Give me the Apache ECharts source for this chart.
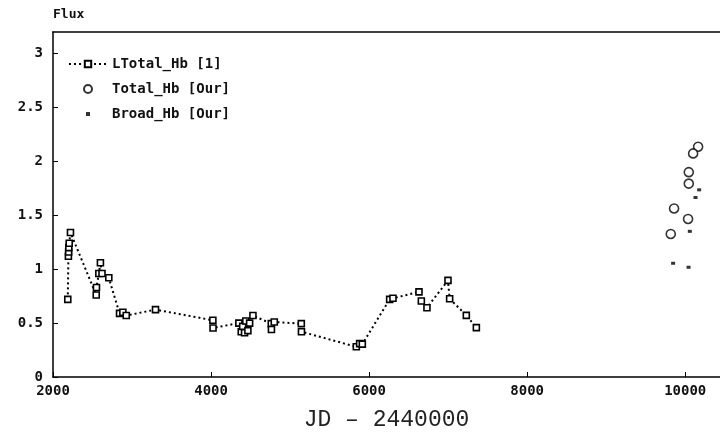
<!DOCTYPE html>
<html>
<head>
<meta charset="utf-8">
<script src="https://cdn.jsdelivr.net/npm/echarts@6/dist/echarts.min.js"></script>
<style>
  html, body { margin: 0; padding: 0; background: #fff; }
  #chart { width: 720px; height: 441px; }
</style>
</head>
<body>
<div id="chart"></div>
<script>
// LTotal_Hb [1] : [JD-2440000, flux]
const lTotalJD   = [2187, 2195, 2198, 2200, 2205, 2221, 2547, 2550, 2580, 2600, 2620, 2706, 2842, 2884, 2927, 3297, 4023, 4025, 4352, 4382, 4400, 4424, 4440, 4466, 4488, 4530, 4762, 4764, 4800, 5142, 5144, 5838, 5880, 5914, 6260, 6302, 6631, 6661, 6732, 6998, 7019, 7230, 7357];
const lTotalFlux = [0.72, 1.12, 1.16, 1.20, 1.24, 1.34, 0.76, 0.83, 0.96, 1.06, 0.96, 0.92, 0.59, 0.60, 0.57, 0.625, 0.526, 0.455, 0.50, 0.42, 0.47, 0.41, 0.52, 0.43, 0.50, 0.57, 0.495, 0.44, 0.51, 0.495, 0.42, 0.28, 0.31, 0.305, 0.72, 0.73, 0.79, 0.705, 0.643, 0.896, 0.726, 0.572, 0.458];
// Total_Hb [Our]
const totalJD   = [10163, 10100, 10045, 10045, 9859, 10036, 9817];
const totalFlux = [2.136, 2.074, 1.90, 1.794, 1.563, 1.466, 1.327];
// Broad_Hb [Our]
const broadJD   = [10176, 10130, 10058, 9847, 10042];
const broadFlux = [1.736, 1.665, 1.351, 1.055, 1.018];

const seriesNames = ['LTotal_Hb [1]', 'Total_Hb [Our]', 'Broad_Hb [Our]'];
const xTicks = [2000, 4000, 6000, 8000, 10000];

const zip = (a, b) => a.map((v, i) => [v, b[i]]);
const monoBold = { fontFamily: 'DejaVu Sans Mono', fontWeight: 'bold', fontSize: 14, color: '#111' };

const chart = echarts.init(document.getElementById('chart'));
chart.setOption({
  animation: false,
  backgroundColor: '#fff',
  grid: { left: 53, top: 32, right: 0, bottom: 64 },
  legend: {
    orient: 'vertical',
    left: 63,
    top: 52,
    itemWidth: 38,
    itemHeight: 8,
    itemGap: 11,
    textStyle: Object.assign({}, monoBold, { lineHeight: 14 }),
    data: [
      { name: seriesNames[0] },
      { name: seriesNames[1], icon: 'circle' },
      { name: seriesNames[2], icon: 'path://M0,0M8,8M2,2L6,2L6,6L2,6Z' }
    ]
  },
  xAxis: [{
    type: 'value',
    min: 2000,
    max: 10440,
    interval: 2000,
    name: 'JD \u2013 2440000',
    nameLocation: 'middle',
    nameGap: 43,
    nameTextStyle: { fontFamily: 'Liberation Mono', fontSize: 23, color: '#222', verticalAlign: 'middle' },
    axisLine: { lineStyle: { color: '#000', width: 1.5 } },
    axisTick: { inside: true, length: 5, lineStyle: { color: '#000', width: 1 } },
    axisLabel: Object.assign({}, monoBold, { margin: 7, showMaxLabel: false,
      formatter: v => xTicks.indexOf(v) >= 0 ? String(v) : '' }),
    splitLine: { show: false }
  }, {
    type: 'value',
    position: 'top',
    min: 2000,
    max: 10440,
    axisLine: { show: true, lineStyle: { color: '#000', width: 1.5 } },
    axisTick: { show: false },
    axisLabel: { show: false },
    splitLine: { show: false }
  }],
  yAxis: {
    type: 'value',
    min: 0,
    max: 3.2,
    interval: 0.5,
    name: 'Flux',
    nameLocation: 'end',
    nameGap: 17,
    nameTextStyle: Object.assign({}, monoBold, { fontSize: 13, align: 'left', verticalAlign: 'middle' }),
    axisLine: { show: true, lineStyle: { color: '#000', width: 1.5 } },
    axisTick: { show: true, inside: true, length: 5, lineStyle: { color: '#000', width: 1 } },
    axisLabel: Object.assign({}, monoBold, { margin: 10, showMaxLabel: false }),
    splitLine: { show: false }
  },
  series: [{
    name: seriesNames[0],
    type: 'line',
    data: zip(lTotalJD, lTotalFlux),
    symbol: 'rect',
    symbolSize: 6,
    showAllSymbol: true,
    itemStyle: { color: '#fff', borderColor: '#000', borderWidth: 1.6 },
    lineStyle: { color: '#000', width: 2, type: [2, 3] },
    z: 3
  }, {
    name: seriesNames[1],
    type: 'scatter',
    data: zip(totalJD, totalFlux),
    symbol: 'circle',
    symbolSize: 9,
    itemStyle: { color: '#fff', borderColor: '#000', borderWidth: 1.6 }
  }, {
    name: seriesNames[2],
    type: 'scatter',
    data: zip(broadJD, broadFlux),
    symbol: 'rect',
    symbolSize: [4, 3],
    itemStyle: { color: '#000' }
  }]
});
</script>
</body>
</html>
